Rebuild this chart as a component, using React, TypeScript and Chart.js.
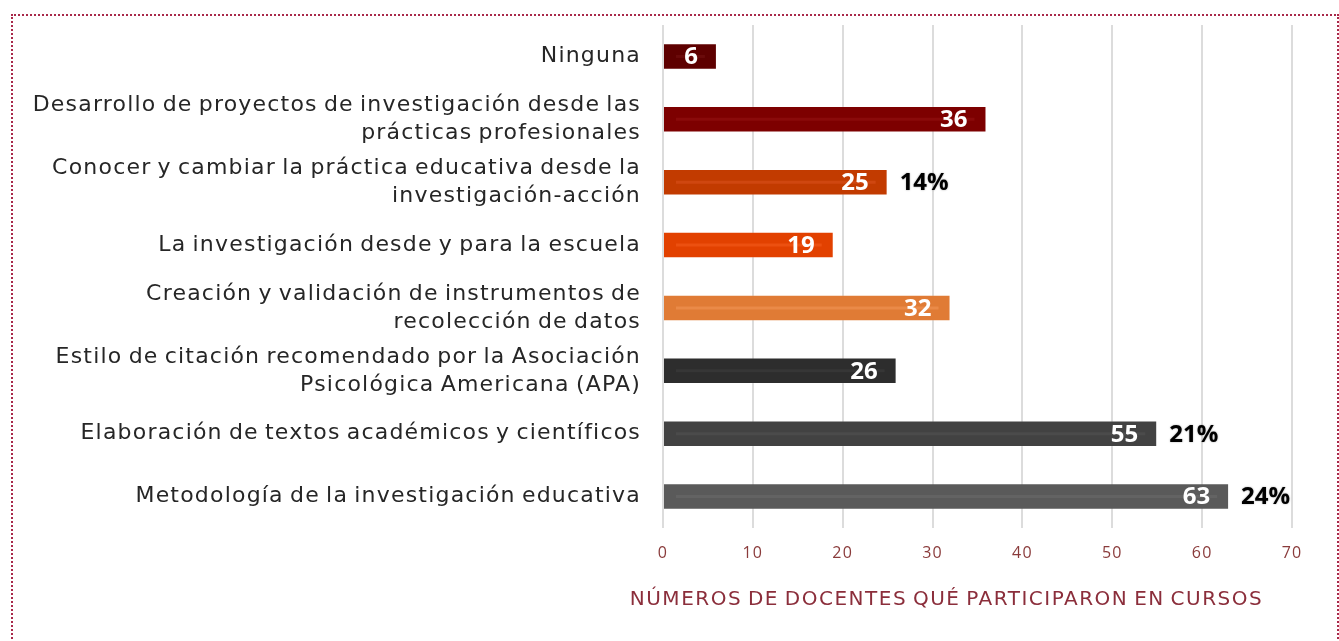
import React, { useEffect, useRef } from "react";
import { Chart, registerables } from "chart.js";

Chart.register(...registerables);

const categories: (string | string[])[] = [
  "Ninguna",
  ["Desarrollo de proyectos de investigación desde las", "prácticas profesionales"],
  ["Conocer y cambiar la práctica educativa desde la", "investigación-acción"],
  "La investigación desde y para la escuela",
  ["Creación y validación de instrumentos de", "recolección de datos"],
  ["Estilo de citación recomendado por la Asociación", "Psicológica Americana (APA)"],
  "Elaboración de textos académicos y científicos",
  "Metodología de la investigación educativa",
];
const values = [6, 36, 25, 19, 32, 26, 55, 63];
const percentLabels = ["", "", "14%", "", "", "", "21%", "24%"];
const barColors = ["#5e0000", "#7d0000", "#c23b00", "#e24100", "#e07b35", "#2d2d2d", "#424242", "#5a5a5a"];
const stripeColors = ["#6a0a0a", "#8a0a0a", "#cf4710", "#ec5010", "#ea8a48", "#363636", "#4b4b4b", "#636363"];
const xTicks = [0, 10, 20, 30, 40, 50, 60, 70];
const axisTitle = "NÚMEROS DE DOCENTES QUÉ PARTICIPARON EN CURSOS";

const W = 1324;
const H = 625;

const labelPlugin = {
  id: "labelPlugin",
  beforeDraw(chart: any) {
    (chart.ctx as any).letterSpacing = "1.2px";
    (chart.ctx as any).wordSpacing = "-2px";
  },
  beforeDatasetsDraw(chart: any) {
    (chart.ctx as any).letterSpacing = "0px";
    (chart.ctx as any).wordSpacing = "0px";
  },
  afterDatasetsDraw(chart: any) {
    const ctx = chart.ctx;
    const meta = chart.getDatasetMeta(0);
    ctx.save();
    meta.data.forEach((bar: any, i: number) => {
      const base = bar.base;
      const x = bar.x;
      const y = bar.y;
      ctx.strokeStyle = stripeColors[i];
      ctx.lineWidth = 3;
      ctx.beginPath();
      ctx.moveTo(base + 12, y);
      ctx.lineTo(x - 12, y);
      ctx.stroke();
      ctx.font = "bold 24px 'Open Sans'";
      ctx.fillStyle = "#ffffff";
      ctx.textAlign = "right";
      ctx.textBaseline = "middle";
      ctx.fillText(String(values[i]), x - 19, y + 1);
      if (percentLabels[i]) {
        ctx.save();
        ctx.shadowColor = "rgba(0,0,0,0.35)";
        ctx.shadowBlur = 2;
        ctx.fillStyle = "#000000";
        ctx.textAlign = "left";
        ctx.fillText(percentLabels[i], x + 12, y + 1);
        ctx.restore();
      }
    });
    const xs = chart.scales.x;
    (ctx as any).letterSpacing = "1.5px";
    (ctx as any).wordSpacing = "-2px";
    ctx.font = "20px 'DejaVu Sans'";
    ctx.fillStyle = "#8b2e3b";
    ctx.textAlign = "center";
    ctx.textBaseline = "middle";
    ctx.fillText(axisTitle, (xs.left + xs.right) / 2 - 31, 584);
    ctx.restore();
    (ctx as any).letterSpacing = "0px";
    (ctx as any).wordSpacing = "0px";
  },
};

export default function App() {
  const ref = useRef<HTMLCanvasElement | null>(null);
  useEffect(() => {
    if (!ref.current) return;
    const chart = new Chart(ref.current, {
      type: "bar",
      data: {
        labels: categories,
        datasets: [
          {
            data: values,
            backgroundColor: barColors,
            borderColor: "rgba(255,255,255,0.12)",
            borderWidth: 1,
            barPercentage: 0.42,
            categoryPercentage: 1,
          },
        ],
      },
      options: {
        indexAxis: "y",
        animation: false,
        responsive: false,
        layout: { padding: { top: 9, right: 45, left: 0, bottom: 0 } },
        plugins: { legend: { display: false }, tooltip: { enabled: false } },
        scales: {
          x: {
            min: 0,
            max: 70,
            afterFit: (s: any) => {
              s.height = 113;
              s.paddingLeft = 0;
              s.paddingRight = 0;
            },
            afterBuildTicks: (s: any) => {
              s.ticks = xTicks.map((v) => ({ value: v }));
            },
            grid: { color: "#dcdcdc", lineWidth: 2, drawTicks: false },
            border: { display: false },
            ticks: {
              padding: 16,
              color: "#8a3b3b",
              font: { family: "'Open Sans'", size: 16 },
            },
          },
          y: {
            afterFit: (s: any) => {
              s.width = 650;
              s.paddingTop = 0;
              s.paddingBottom = 0;
            },
            grid: { display: false, drawTicks: false },
            border: { display: false },
            ticks: {
              padding: 22,
              color: "#262626",
              font: { family: "'DejaVu Sans'", size: 22, lineHeight: 1.27 },
            },
          },
        },
      },
      plugins: [labelPlugin],
    });
    return () => chart.destroy();
  }, []);
  return (
    <div
      style={{
        position: "absolute",
        left: 11,
        top: 14,
        width: W,
        height: 660,
        border: "2px dotted #a8294a",
      }}
    >
      <canvas ref={ref} width={W} height={H} style={{ display: "block", width: W, height: H }} />
    </div>
  );
}
